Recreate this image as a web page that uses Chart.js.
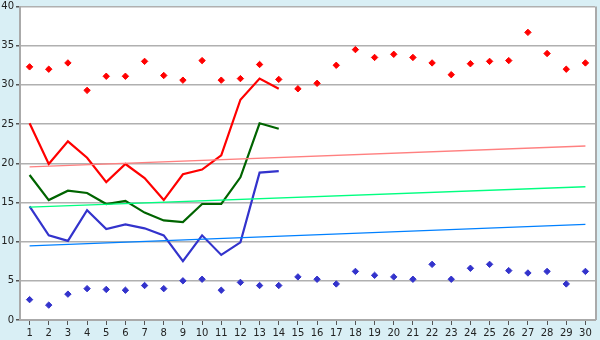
<!DOCTYPE html>
<html>
<head>
<meta charset="utf-8">
<script src="https://cdn.jsdelivr.net/npm/chart.js@4"></script>
<style>
html,body{margin:0;padding:0;background:#d9eff5;}
#wrap{width:600px;height:340px;}
</style>
</head>
<body>
<div id="wrap"><canvas id="c" width="600" height="340"></canvas></div>
<script>
const categories = ['1','2','3','4','5','6','7','8','9','10','11','12','13','14','15','16','17','18','19','20','21','22','23','24','25','26','27','28','29','30'];
const redPoints = [32.3,32.0,32.8,29.3,31.1,31.1,33.0,31.2,30.6,33.1,30.6,30.8,32.6,30.7,29.5,30.2,32.5,34.5,33.5,33.9,33.5,32.8,31.3,32.7,33.0,33.1,36.7,34.0,32.0,32.8];
const bluePoints = [2.6,1.9,3.3,4.0,3.9,3.8,4.4,4.0,5.0,5.2,3.8,4.8,4.4,4.4,5.5,5.2,4.6,6.2,5.7,5.5,5.2,7.1,5.2,6.6,7.1,6.3,6.0,6.2,4.6,6.2];
const redLine = [25.1,19.9,22.8,20.7,17.6,19.9,18.1,15.3,18.6,19.2,21.0,28.1,30.8,29.5];
const greenLine = [18.5,15.3,16.5,16.2,14.8,15.2,13.7,12.7,12.5,14.8,14.8,18.2,25.1,24.4];
const blueLine = [14.5,10.8,10.1,14.0,11.6,12.2,11.7,10.8,7.5,10.8,8.3,9.9,18.8,19.0];
const redTrendEnds = [19.55,22.2];
const greenTrendEnds = [14.4,17.0];
const blueTrendEnds = [9.45,12.2];
const yTicks = [0,5,10,15,20,25,30,35,40];

function ends(e){ const a = categories.map(()=>null); a[0]=e[0]; a[a.length-1]=e[1]; return a; }

const bgPlugin = {
  id:'bg',
  beforeDraw(chart){
    const {ctx, chartArea:a} = chart;
    ctx.save();
    ctx.fillStyle='#d9eff5';
    ctx.fillRect(0,0,chart.width,chart.height);
    ctx.fillStyle='#ffffff';
    ctx.fillRect(a.left,a.top,a.right-a.left,a.bottom-a.top);
    ctx.restore();
  },
  afterDraw(chart){
    const {ctx, chartArea:a} = chart;
    ctx.save();
    ctx.strokeStyle='#aaaaaa';
    ctx.lineWidth=2;
    ctx.beginPath();
    ctx.moveTo(a.right+1,a.top);
    ctx.lineTo(a.right+1,a.bottom);
    ctx.stroke();
    ctx.restore();
  }
};

const lineDs = (data,color,w)=>({type:'line',data,borderColor:color,borderWidth:w,pointRadius:0,tension:0,fill:false,spanGaps:true});
const ptDs = (data,color)=>({type:'line',data,showLine:false,pointStyle:'rectRot',pointRadius:3.2,pointBackgroundColor:color,pointBorderColor:color,pointBorderWidth:1});

new Chart(document.getElementById('c'),{
  type:'line',
  data:{
    labels:categories,
    datasets:[
      lineDs(ends(redTrendEnds),'#ff8080',1.3),
      lineDs(ends(greenTrendEnds),'#00ff80',1.3),
      lineDs(ends(blueTrendEnds),'#0080ff',1.3),
      lineDs(redLine,'#ff0000',2.2),
      lineDs(greenLine,'#006400',2.2),
      lineDs(blueLine,'#3333cc',2.2),
      ptDs(redPoints,'#ff0000'),
      ptDs(bluePoints,'#3333cc')
    ]
  },
  options:{
    responsive:false,
    animation:false,
    layout:{padding:{top:0,right:5,left:0,bottom:0}},
    plugins:{legend:{display:false},tooltip:{enabled:false}},
    scales:{
      x:{
        offset:true,
        afterFit(s){ s.height=20; },
        grid:{offset:false,drawOnChartArea:false,drawTicks:true,tickLength:5,color:'#555555'},
        border:{color:'#aaaaaa',width:2},
        ticks:{font:{family:'DejaVu Sans',size:10},color:'#222222',padding:2,maxRotation:0,autoSkip:false}
      },
      y:{
        min:0,max:40,
        afterFit(s){ s.width=20; },
        afterBuildTicks(s){ s.ticks = yTicks.map(v=>({value:v})); },
        grid:{color:'#b0b0b0',lineWidth:1.5,tickLength:4,tickColor:'#555555'},
        border:{color:'#aaaaaa',width:2},
        ticks:{font:{family:'DejaVu Sans',size:10,lineHeight:0.9},color:'#222222',padding:2}
      }
    }
  },
  plugins:[bgPlugin]
});
</script>
</body>
</html>
